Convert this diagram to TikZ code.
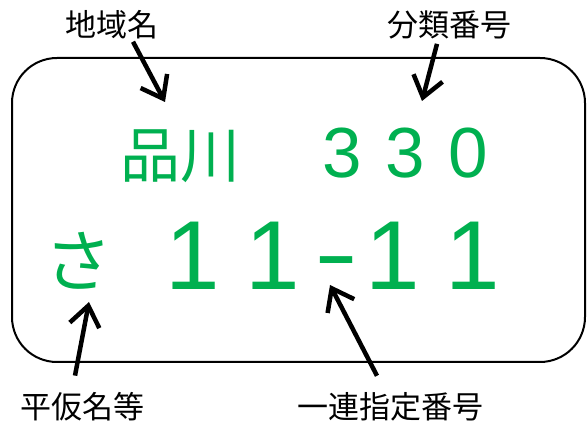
\documentclass[tikz,border=0pt]{standalone}
\usepackage{fontspec}
\setmainfont{Noto Sans CJK JP}
\newfontfamily\platefont{Liberation Sans}
\usepackage{xcolor}
\usepackage{tikz}
\usetikzlibrary{arrows.meta}

\definecolor{plategreen}{HTML}{00B050}

\begin{document}
\begin{tikzpicture}[x=1pt, y=-1pt,
        lbl/.style={inner sep=0pt, anchor=base, font=\fontsize{31}{31}\selectfont},
        plaque/.style={inner sep=0pt, anchor=base, text=plategreen},
        pointer/.style={line width=4.5pt, -{Straight Barb[length=20pt,width=30pt]}}]
        \useasboundingbox (0,0) rectangle (587,422);

        % Plaque
        \draw[line width=2pt, rounded corners=45pt] (12,58) rectangle (585,362);

        % Textes verts
        \node[plaque, font=\fontsize{60}{60}\selectfont] (area) at (180,178) {品川};
        \node[plaque, font=\platefont\fontsize{71}{71}\selectfont] (classnum) at (405,178)
            {\makebox[63pt]{3}\makebox[63pt]{3}\makebox[63pt]{0}};
        \node[plaque, font=\fontsize{68}{68}\selectfont] (hira) at (79,287) {さ};
        \node[plaque, font=\platefont\fontsize{98}{98}\selectfont] (number) at (333,290)
            {\makebox[80pt]{1}\makebox[80pt]{1}\makebox[40pt]{\kern8pt\raisebox{6pt}{\scalebox{1.35}[0.9]{-}}}\makebox[80pt]{1}\makebox[80pt]{1}};

        % Légendes
        \node[lbl] (region) at (112,37) {地域名};
        \node[lbl] (class) at (449,37) {分類番号};
        \node[lbl] (kana) at (82,418) {平仮名等};
        \node[lbl] (serial) at (390,418) {一連指定番号};

        % Flèches
        \coordinate (regiontip) at (165,102);
        \coordinate (classtip) at (422,101);
        \coordinate (kanatip) at (89,302);
        \coordinate (serialtip) at (330,285);
        \draw[pointer] ([xshift=21pt,yshift=-2pt]region.south) -- (regiontip);
        \draw[pointer] ([xshift=-12pt,yshift=-4pt]class.south) -- (classtip);
        \draw[pointer] ([xshift=-7pt,yshift=16pt]kana.north) -- (kanatip);
        \draw[pointer] ([xshift=-13pt,yshift=16pt]serial.north) -- (serialtip);
\end{tikzpicture}
\end{document}
